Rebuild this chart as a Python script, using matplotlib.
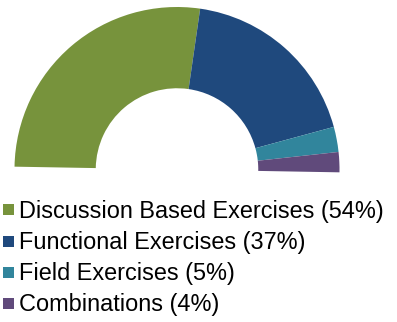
import matplotlib
matplotlib.use("Agg")
import matplotlib.pyplot as plt
from matplotlib.patches import Rectangle

categories = ["Discussion Based Exercises", "Functional Exercises", "Field Exercises", "Combinations"]
shares = [54, 37, 5, 4]
colors = ["#77933C", "#1F497D", "#31859C", "#604A7B"]

W, H = 397, 322
fig = plt.figure(figsize=(W / 100, H / 100), dpi=100)
fig.patch.set_facecolor("white")

# half donut: the shares fill the upper 180 degrees, drawn clockwise from the left
cx, cy, r = 177.0, 169.5, 162.5
ax = fig.add_axes([(cx - r) / W, (H - cy - r) / H, 2 * r / W, 2 * r / H])
total = sum(shares)
ax.pie(shares + [total], colors=colors + ["none"], startangle=179, counterclock=False,
       radius=1.0, wedgeprops=dict(width=0.5, linewidth=0))
ax.set_xlim(-1, 1)
ax.set_ylim(-1, 1)
ax.set_aspect("auto")
ax.axis("off")

# legend rows (baseline of each label, in pixels from the top)
baselines = [217.6, 248.9, 280.2, 311.5]
for name, val, col, yb in zip(categories, shares, colors, baselines):
    fig.patches.append(Rectangle((2.5 / W, (H - yb + 2.2) / H), 11 / W, 11 / H,
                                 transform=fig.transFigure, facecolor=col, edgecolor="none"))
    fig.text(19.2 / W, (H - yb) / H, f"{name} ({val}%)", fontsize=16.9,
             family="Liberation Sans", color="#000000", va="baseline", ha="left")

fig.savefig("out.png", dpi=100, facecolor="white")
